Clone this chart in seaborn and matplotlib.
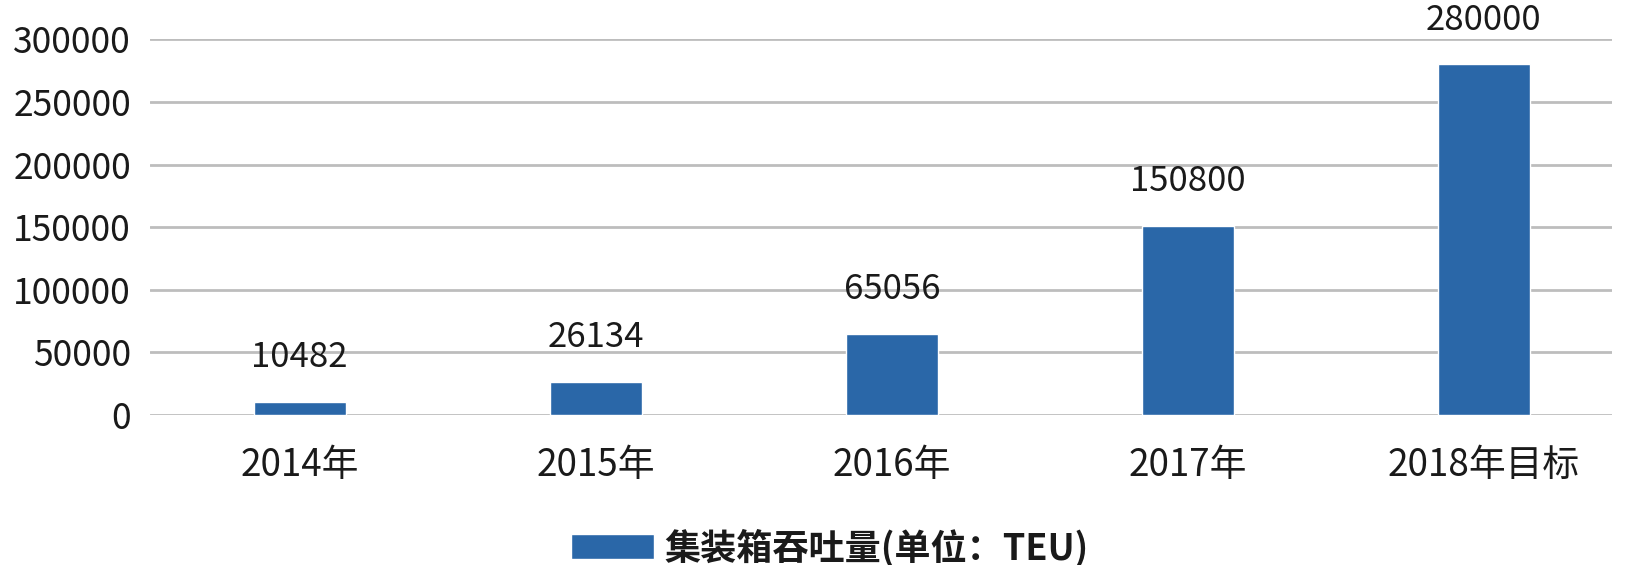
import numpy as np
import pandas as pd
import seaborn as sns
import matplotlib.pyplot as plt

# data
years = ["2014年", "2015年", "2016年", "2017年", "2018年目标"]
teu = [10482, 26134, 65056, 150800, 280000]
legend_label = "集装箱吞吐量(单位：TEU)"
y_ticks = [0, 50000, 100000, 150000, 200000, 250000, 300000]

df = pd.DataFrame({"year": years, "teu": teu})

sns.set_theme(style="white")
plt.rcParams["font.family"] = ["Noto Sans CJK SC", "DejaVu Sans"]

bar_color = "#2A67A8"
text_color = "#1a1a1a"

fig = plt.figure(figsize=(16.27, 5.65), dpi=100)
ax = fig.add_axes([0.0925, 0.2655, 0.8985, 0.6647])

sns.barplot(data=df, x="year", y="teu", color=bar_color, width=0.31,
            saturation=1, ax=ax)

ax.set_xlim(-0.504, 4.434)
ax.set_ylim(0, 300000)
ax.set_yticks(y_ticks)
ax.set_yticklabels([str(v) for v in y_ticks])
ax.yaxis.grid(True, color="#BDBDBD", linewidth=2)
ax.set_axisbelow(True)
for s in ax.spines.values():
    s.set_visible(False)
ax.tick_params(axis="y", length=0, pad=14, labelsize=25.5, labelcolor=text_color)
ax.tick_params(axis="x", length=0, pad=22, labelsize=26.5, labelcolor=text_color)
ax.set_xlabel("")
ax.set_ylabel("")

for i, v in enumerate(teu):
    ax.annotate(str(v), xy=(i, v), xytext=(0, 32), textcoords="offset points",
                ha="center", va="center", fontsize=25, color=text_color)

ax.legend([ax.patches[0]], [legend_label], loc="center",
          bbox_to_anchor=(0.51, 0.03), bbox_transform=fig.transFigure,
          frameon=False, handlelength=2.3, handleheight=0.68,
          handletextpad=0.3, prop={"size": 26, "weight": "bold"},
          labelcolor=text_color)

fig.savefig("out.png", dpi=100, facecolor="white")
